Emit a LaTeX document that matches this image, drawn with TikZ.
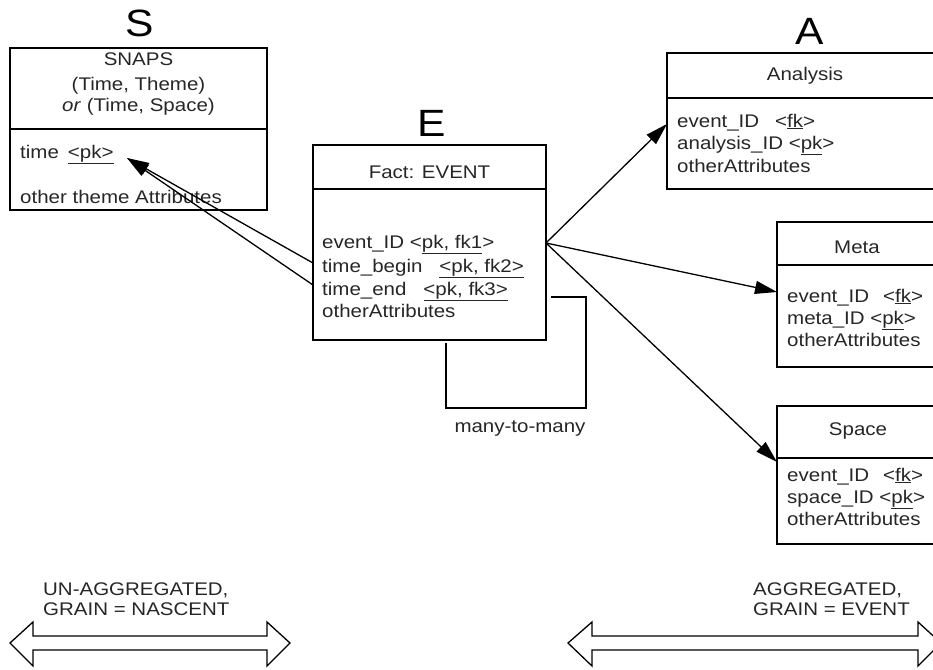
\documentclass[tikz,border=0pt]{standalone}
\usepackage{fontspec}
\setmainfont{Liberation Sans}[FakeStretch=1.12]
\usetikzlibrary{arrows.meta,positioning}

\begin{document}
\begin{tikzpicture}[x=1pt,y=-1pt,
  tbl/.style={draw, line width=1.5pt, inner sep=0pt},
  sep/.style={line width=1.5pt},
  row/.style={anchor=base west, inner sep=0pt, font=\fontsize{18.3}{22}\selectfont, text=black!85},
  hdr/.style={anchor=base, inner sep=0pt, font=\fontsize{18.3}{22}\selectfont, text=black!85},
  letter/.style={anchor=base, inner sep=0pt, font=\fontsize{38}{40}\selectfont},
  arr/.style={-{Triangle[length=22pt,width=13pt]}, line width=1.3pt},
  fat/.style={draw, line width=1.3pt, fill=white}
]
\useasboundingbox (0,0) rectangle (933,669);
\clip (0,0) rectangle (933,669);

% big letters
\node[letter] (lS) at (140,37) {S};
\node[letter] (lE) at (432,136) {E};
\node[letter] (lA) at (810,45) {A};

% SNAPS
\node[tbl, minimum width=257pt, minimum height=162pt] (snaps) at (138.5,129) {};
\draw[sep] (10,129) -- (267,129);
\node[hdr] (snapsT1) at (138.5,65) {SNAPS};
\node[hdr] (snapsT2) at (138.5,90) {(Time, Theme)};
\node[hdr] (snapsT3) at (138.5,111) {\textit{or} (Time, Space)};
\node[row] (snapsR1) at (20,158) {time\hspace{9pt}\underline{<pk>}};
\node[row] (snapsR2) at (20,203) {other theme Attributes};

% Fact: EVENT
\node[tbl, minimum width=233pt, minimum height=195pt] (event) at (429.5,242.5) {};
\draw[sep] (313,189) -- (546,189);
\node[hdr] (eventT) at (429.5,178) {Fact: EVENT};
\node[row] (eventR1) at (322,248) {event\_ID <\underline{pk, fk1}>};
\node[row] (eventR2) at (322,272) {time\_begin\hspace{17pt}\underline{<pk, fk2>}};
\node[row] (eventR3) at (322,295) {time\_end\hspace{17pt}\underline{<pk, fk3>}};
\node[row] (eventR4) at (322,317) {otherAttributes};

% Analysis
\node[tbl, minimum width=276pt, minimum height=136pt] (analysis) at (805,121) {};
\draw[sep] (667,98) -- (943,98);
\node[hdr] (analysisT) at (805,81) {Analysis};
\node[row] (analysisR1) at (677,127) {event\_ID\hspace{16pt}<\underline{fk}>};
\node[row] (analysisR2) at (677,149) {analysis\_ID <\underline{pk}>};
\node[row] (analysisR3) at (677,172) {otherAttributes};

% Meta
\node[tbl, minimum width=160pt, minimum height=145pt] (meta) at (857,294.5) {};
\draw[sep] (777,265) -- (937,265);
\node[hdr] (metaT) at (857,253) {Meta};
\node[row] (metaR1) at (787,302) {event\_ID\hspace{14pt}<\underline{fk}>};
\node[row] (metaR2) at (787,324) {meta\_ID <\underline{pk}>};
\node[row] (metaR3) at (787,346) {otherAttributes};

% Space
\node[tbl, minimum width=162pt, minimum height=138pt] (space) at (858,475) {};
\draw[sep] (777,458) -- (939,458);
\node[hdr] (spaceT) at (858,435) {Space};
\node[row] (spaceR1) at (787,481) {event\_ID\hspace{14pt}<\underline{fk}>};
\node[row] (spaceR2) at (787,503) {space\_ID <\underline{pk}>};
\node[row] (spaceR3) at (787,525) {otherAttributes};

% connector ends
\coordinate (evOut) at (546,243);
\coordinate (evB) at (313,263);
\coordinate (evE) at (313,285);
\coordinate (snapsIn) at (127,158);
\coordinate (analysisIn) at (667,124);
\coordinate (metaIn) at (777,292);
\coordinate (spaceIn) at (777,462);

\draw[arr] (evB) -- (snapsIn);
\draw[arr] (evE) -- (snapsIn);
\draw[arr] (evOut) -- (analysisIn);
\draw[arr] (evOut) -- (metaIn);
\draw[arr] (evOut) -- (spaceIn);

% many-to-many loop
\coordinate (loopA) at (446,343);
\coordinate (loopB) at (551,297);
\draw[line width=1.4pt] (loopA) |- (586,408) |- (loopB);
\node[hdr] (loopT) at (520,432) {many-to-many};

% grain arrows
\draw[fat] (10,643) -- (33,622) -- (33,636) -- (267,636) -- (267,622) -- (290,643)
  -- (267,666) -- (267,650) -- (33,650) -- (33,666) -- cycle;
\draw[fat] (568,643) -- (592,622) -- (592,636) -- (918,636) -- (918,622) -- (941,643)
  -- (918,666) -- (918,650) -- (592,650) -- (592,666) -- cycle;
\node[row] (grainL1) at (43,595) {UN-AGGREGATED,};
\node[row] (grainL2) at (43,615) {GRAIN = NASCENT};
\node[row] (grainR1) at (753,595) {AGGREGATED,};
\node[row] (grainR2) at (753,615) {GRAIN = EVENT};
\end{tikzpicture}
\end{document}
